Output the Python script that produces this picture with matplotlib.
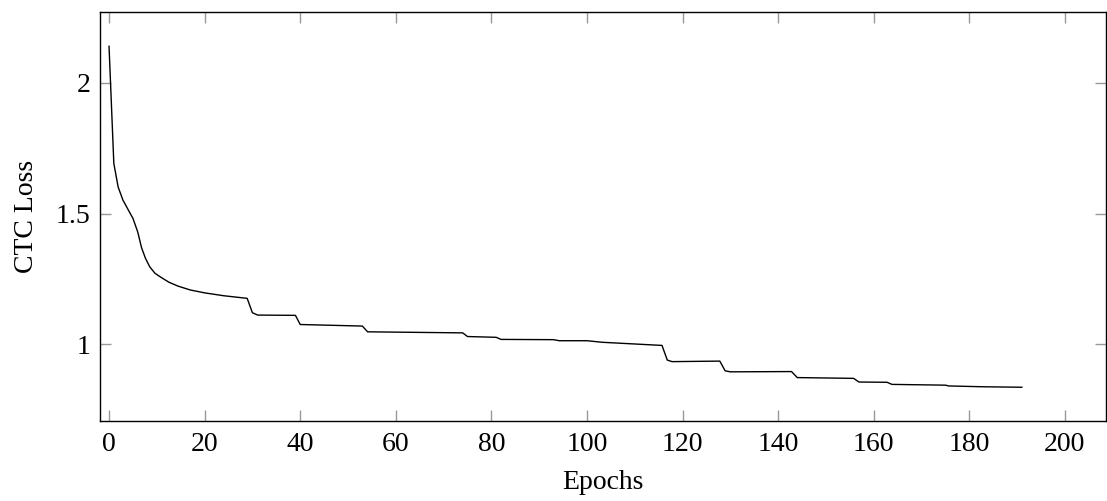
import matplotlib
matplotlib.use("Agg")
import matplotlib.pyplot as plt

# training loss per epoch
epochs = [0, 1, 1.9, 2.9, 4, 5, 6, 6.8, 7.6, 8.5, 9.6, 10.9, 12.5, 14.4, 17,
          20, 24, 28.9, 30, 31.1, 39, 40, 53, 54.1, 74, 75, 81, 82, 93, 94.2,
          100, 103.2, 115.7, 116.8, 117.8, 127.8, 128.9, 130, 142.8, 144,
          155.8, 156.9, 162.8, 163.8, 175, 175.7, 182.6, 191]
loss = [2.14, 1.692, 1.602, 1.552, 1.515, 1.482, 1.43, 1.37, 1.33, 1.297,
        1.272, 1.256, 1.238, 1.223, 1.208, 1.197, 1.186, 1.176, 1.121, 1.112,
        1.111, 1.076, 1.07, 1.048, 1.044, 1.03, 1.027, 1.019, 1.018, 1.014,
        1.014, 1.008, 0.996, 0.94, 0.934, 0.936, 0.899, 0.895, 0.896, 0.873,
        0.870, 0.856, 0.855, 0.847, 0.844, 0.841, 0.838, 0.836]

xticks = list(range(0, 201, 20))
yticks = [1, 1.5, 2]
ytick_labels = ["1", "1.5", "2"]

plt.rcParams["font.family"] = ["Liberation Serif", "DejaVu Serif"]

fig = plt.figure(figsize=(11.07, 5.01), dpi=100)
ax = fig.add_axes([0.0903, 0.1597, 0.9088, 0.8163])
ax.plot(epochs, loss, color="black", linewidth=1.0)

ax.set_xlim(-1.9, 208.6)
ax.set_ylim(0.707, 2.271)
ax.set_xticks(xticks)
ax.set_yticks(yticks)
ax.set_yticklabels(ytick_labels)
ax.tick_params(direction="in", length=8, width=1, color="0.6",
               top=True, right=True, labelsize=20)
ax.tick_params(axis="x", pad=8)
ax.tick_params(axis="y", pad=7)
for s in ax.spines.values():
    s.set_linewidth(1.0)

ax.set_xlabel("Epochs", fontsize=20, labelpad=9)
ax.set_ylabel("CTC Loss", fontsize=20, labelpad=12)

fig.savefig("out.png", dpi=100)
